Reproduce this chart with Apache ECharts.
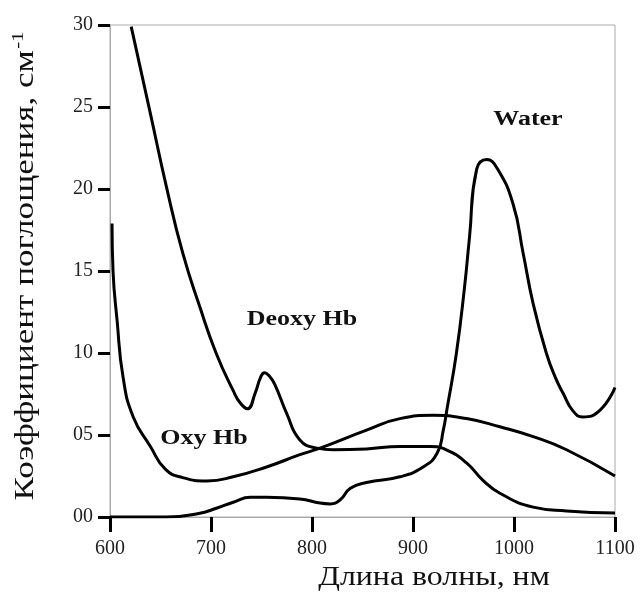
<!DOCTYPE html>
<html>
<head>
<meta charset="utf-8">
<script src="https://cdn.jsdelivr.net/npm/echarts@6/dist/echarts.min.js"></script>
<style>
  html, body { margin: 0; padding: 0; background: #fff; }
  #chart { width: 643px; height: 599px; }
</style>
</head>
<body>
<div id="chart"></div>
<script>
// Длина волны (нм) и коэффициент поглощения (см-1)
var deoxyX = [621, 640, 656, 672, 689, 705, 722, 729, 736, 744, 749, 753, 757, 763, 775, 788, 805, 821, 854, 887, 917, 933, 953, 969, 986, 1019, 1052, 1100];
var deoxyY = [29.9, 24.6, 20.1, 16.1, 12.8, 10.0, 7.7, 6.95, 6.6, 7.6, 8.5, 8.8, 8.65, 8.1, 6.3, 4.7, 4.2, 4.1, 4.15, 4.3, 4.3, 4.1, 3.3, 2.25, 1.45, 0.6, 0.37, 0.24];

var oxyX = [602, 603, 607, 613, 623, 640, 655, 672, 696, 722, 755, 788, 808, 854, 887, 920, 953, 986, 1019, 1052, 1100];
var oxyY = [17.9, 15.0, 12.0, 8.5, 6.1, 4.3, 2.9, 2.4, 2.2, 2.45, 3.05, 3.8, 4.2, 5.3, 6.0, 6.2, 6.0, 5.5, 4.9, 4.1, 2.5];

var waterX = [600, 656, 689, 706, 722, 739, 755, 788, 808, 818, 828, 838, 854, 887, 910, 924, 930, 934, 943, 951, 956, 963, 973, 983, 999, 1009, 1019, 1032, 1041, 1049, 1058, 1068, 1085, 1100];
var waterY = [0, 0, 0.23, 0.55, 0.9, 1.2, 1.2, 1.1, 0.85, 0.8, 1.05, 1.75, 2.1, 2.45, 3.05, 3.9, 5.3, 6.7, 10.0, 14.0, 17.1, 21.2, 21.8, 21.3, 19.1, 16.1, 13.0, 10.0, 8.5, 7.5, 6.5, 6.1, 6.5, 7.9];

var xTicks = [600, 700, 800, 900, 1000, 1100];
var yTickLabels = ['00', '05', '10', '15', '20', '25', '30'];

var curveNames = ['Deoxy Hb', 'Oxy Hb', 'Water'];

function pairs(xs, ys) {
  var out = [];
  for (var i = 0; i < xs.length; i++) {
    out.push([xs[i], ys[i]]);
  }
  return out;
}

var font = '"Liberation Serif", "Times New Roman", serif';

function curve(name, xs, ys) {
  return {
    name: name,
    type: 'line',
    smooth: 0.5,
    showSymbol: false,
    clip: true,
    lineStyle: { color: '#000', width: 3 },
    data: pairs(xs, ys)
  };
}

// подпись кривой (жирный, растянутый по горизонтали)
function tag(text, x, y) {
  return {
    type: 'text', x: x, y: y, scaleX: 1.3,
    style: { text: text, font: 'bold 20px ' + font, fill: '#111', align: 'center', verticalAlign: 'middle' }
  };
}

var myChart = echarts.init(document.getElementById('chart'));

myChart.setOption({
  animation: false,
  backgroundColor: '#fff',
  grid: {
    left: 110, right: 28, top: 25, bottom: 82,
    show: true,
    borderColor: '#aaa',
    borderWidth: 1
  },
  xAxis: {
    type: 'value',
    min: xTicks[0],
    max: xTicks[xTicks.length - 1],
    interval: 100,
    axisLine: { lineStyle: { color: '#aaa', width: 1 } },
    axisTick: { show: true, length: 15, lineStyle: { color: '#000', width: 3 } },
    axisLabel: {
      margin: 22, color: '#222', fontFamily: font, fontSize: 20,
      formatter: function (v) { return String(v); }
    },
    splitLine: { show: false }
  },
  yAxis: {
    type: 'value',
    min: 0,
    max: 30,
    interval: 5,
    axisLine: { show: true, lineStyle: { color: '#aaa', width: 1 } },
    axisTick: { show: true, length: 12, lineStyle: { color: '#000', width: 3 } },
    axisLabel: {
      margin: 17, color: '#222', fontFamily: font, fontSize: 20,
      formatter: function (v) { return yTickLabels[v / 5]; }
    },
    splitLine: { show: false }
  },
  series: [
    curve(curveNames[0], deoxyX, deoxyY),
    curve(curveNames[1], oxyX, oxyY),
    curve(curveNames[2], waterX, waterY)
  ],
  graphic: [
    tag(curveNames[0], 302, 320),
    tag(curveNames[1], 204, 439),
    tag(curveNames[2], 528, 120),
    // подписи осей
    {
      type: 'text', x: 434, y: 578, scaleX: 1.18,
      style: { text: 'Длина волны, нм', font: '27px ' + font, fill: '#111', align: 'center', verticalAlign: 'middle' }
    },
    {
      type: 'text', x: 26, y: 266, rotation: Math.PI / 2, scaleX: 1.3,
      style: {
        text: 'Коэффициент поглощения, см{sup|-1}',
        font: '27px ' + font, fill: '#111', align: 'center', verticalAlign: 'middle',
        rich: {
          sup: { fontSize: 16, fontFamily: font, fill: '#111', verticalAlign: 'top', padding: [0, 0, 14, 1] }
        }
      }
    }
  ]
});
</script>
</body>
</html>
